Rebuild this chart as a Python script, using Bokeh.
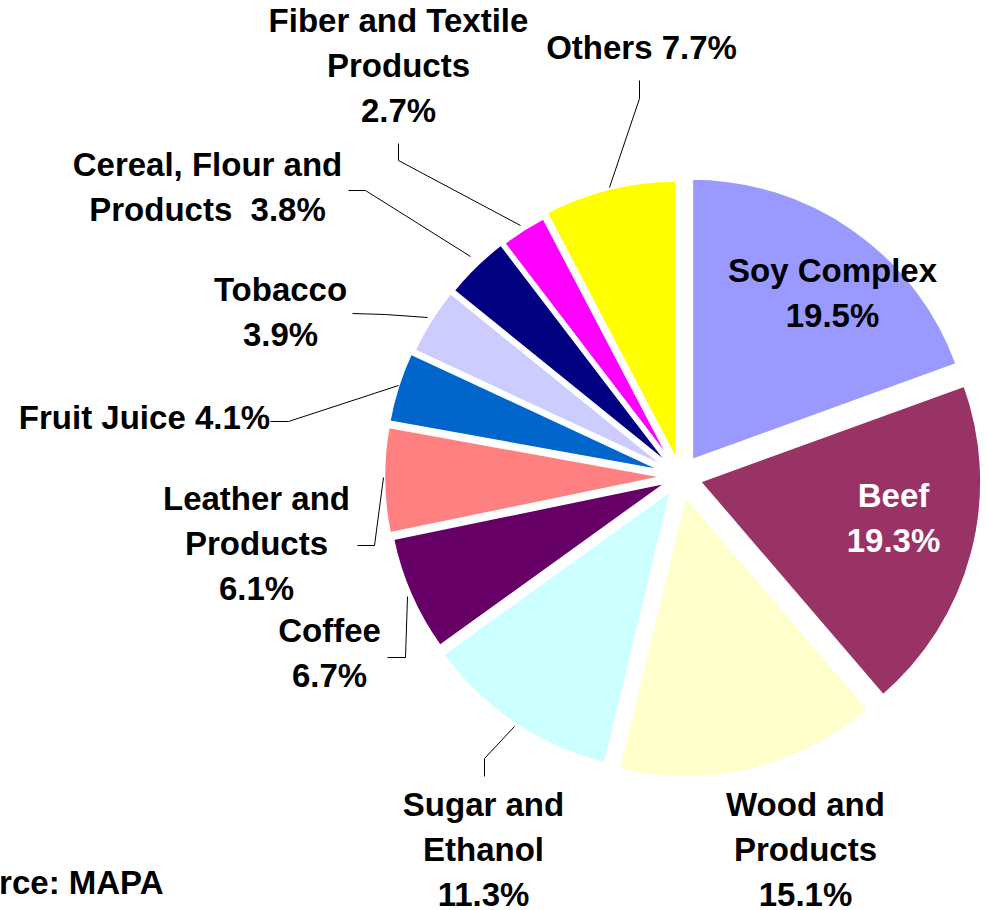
import numpy as np
from bokeh.plotting import figure
from bokeh.models import Range1d, ColumnDataSource
from bokeh.embed import file_html
from bokeh.resources import INLINE
from bokeh.core.properties import value

# ---------------- data ----------------
categories = ["Soy Complex", "Beef", "Wood and Products", "Sugar and Ethanol",
              "Coffee", "Leather and Products", "Fruit Juice", "Tobacco",
              "Cereal, Flour and Products", "Fiber and Textile Products", "Others"]
shares = [19.5, 19.3, 15.1, 11.3, 6.7, 6.1, 4.1, 3.9, 3.8, 2.7, 7.7]
colors = ["#9999FF", "#993366", "#FFFFCC", "#CCFFFF", "#660066", "#FF8080",
          "#0066CC", "#CCCCFF", "#000080", "#FF00FF", "#FFFF00"]
label_templates = ["Soy Complex\n{}", "Beef\n{}", "Wood and\nProducts\n{}",
                   "Sugar and\nEthanol\n{}", "Coffee\n{}", "Leather and\nProducts\n{}",
                   "Fruit Juice {}", "Tobacco\n{}", "Cereal, Flour and\nProducts\u00a0 {}",
                   "Fiber and Textile\nProducts\n{}", "Others {}"]
label_colors = ["black", "white"] + ["black"] * 9
source_note = "Source: MAPA"

# ---------------- layout (image pixel coords, y down) ----------------
W, H = 987, 910
CX, CY, R = 680, 476, 283
explode = [19, 19, 19, 15, 12, 14, 14, 12, 11, 10, 14]
label_xy = [(832, 283), (893, 508), (805, 817), (483, 817), (329, 643), (256, 511),
            (144, 430), (280, 302), (207, 177), (398, 33), (641, 60)]
LINE_STEP = 45
TEXT_SHIFT = 13   # compensates the renderer's baseline placement
leaders = [
    [(270, 421), (288, 421), (398, 385)],
    [(357, 545), (374, 545), (383, 477)],
    [(387, 657), (405, 657), (407, 596)],
    [(484, 776), (484, 758), (514, 726)],
    [(352, 313), (385, 314), (427, 317)],
    [(348, 190), (365, 190), (470, 256)],
    [(398, 143), (398, 160), (520, 225)],
    [(639, 80), (639, 98), (609, 187)],
]


def Y(py):
    return H - py


p = figure(width=W, height=H, output_backend="svg", toolbar_location=None,
           x_range=Range1d(0, W), y_range=Range1d(0, H),
           x_axis_type=None, y_axis_type=None, min_border=0)
p.grid.visible = False
p.outline_line_color = None
p.background_fill_color = "white"
p.border_fill_color = "white"

total = sum(shares)
frac = np.array(shares) / total
cum = np.concatenate([[0], np.cumsum(frac)])
a0 = cum[:-1] * 2 * np.pi          # clockwise from 12 o'clock
a1 = cum[1:] * 2 * np.pi
mid = (a0 + a1) / 2
start = np.pi / 2 - a1
end = np.pi / 2 - a0
mid_math = np.pi / 2 - mid
xs = CX + np.array(explode) * np.cos(mid_math)
ys = Y(CY) + np.array(explode) * np.sin(mid_math)

src = ColumnDataSource(dict(x=xs, y=ys, start=start, end=end, color=colors, name=categories))
p.wedge(x="x", y="y", radius=R, start_angle="start", end_angle="end",
        direction="anticlock", fill_color="color", line_color="white", line_width=3.5,
        source=src)

# leader lines
p.multi_line(xs=[[pt[0] for pt in ln] for ln in leaders],
             ys=[[Y(pt[1]) for pt in ln] for ln in leaders],
             line_color="black", line_width=1)

# labels
tx, ty, tt, tc = [], [], [], []
for tmpl, v, (lx, ly), col in zip(label_templates, shares, label_xy, label_colors):
    lines = tmpl.format(f"{v:.1f}%").split("\n")
    for i, ln in enumerate(lines):
        tx.append(lx)
        ty.append(Y(ly + i * LINE_STEP - TEXT_SHIFT))
        tt.append(ln)
        tc.append(col)
p.text(x=tx, y=ty, text=tt, text_color=tc, text_align="center",
       text_baseline="alphabetic", text_font=value("Liberation Sans"),
       text_font_style="bold", text_font_size="33px")

p.text(x=[163], y=[Y(895 - TEXT_SHIFT)], text=[source_note], text_align="right",
       text_baseline="alphabetic", text_font=value("Liberation Sans"),
       text_font_style="bold", text_font_size="33px", text_color="black")

open("out.html", "w").write(file_html(p, INLINE))
